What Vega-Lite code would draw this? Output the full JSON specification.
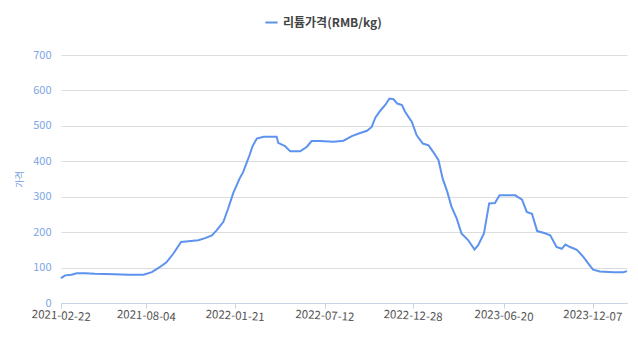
{
  "$schema": "https://vega.github.io/schema/vega-lite/v6.json",
  "width": 566,
  "height": 248,
  "autosize": {"type": "none"},
  "padding": {"left": 61, "top": 55, "right": 11, "bottom": 43},
  "background": "#ffffff",
  "config": {
    "font": "Noto Sans CJK KR",
    "view": {"stroke": null}
  },
  "data": {
    "values": [
      {"date": "2021-02-22", "price": 70},
      {"date": "2021-03-02", "price": 78},
      {"date": "2021-03-14", "price": 80},
      {"date": "2021-03-24", "price": 84},
      {"date": "2021-04-09", "price": 84},
      {"date": "2021-04-28", "price": 82.5},
      {"date": "2021-06-05", "price": 81.5},
      {"date": "2021-07-01", "price": 80},
      {"date": "2021-07-30", "price": 80},
      {"date": "2021-08-15", "price": 87},
      {"date": "2021-08-30", "price": 101},
      {"date": "2021-09-12", "price": 115},
      {"date": "2021-09-25", "price": 139},
      {"date": "2021-10-10", "price": 172},
      {"date": "2021-10-24", "price": 174},
      {"date": "2021-11-12", "price": 177},
      {"date": "2021-11-25", "price": 183},
      {"date": "2021-12-08", "price": 191},
      {"date": "2021-12-17", "price": 205},
      {"date": "2021-12-30", "price": 229},
      {"date": "2022-01-08", "price": 266},
      {"date": "2022-01-18", "price": 311},
      {"date": "2022-01-30", "price": 351},
      {"date": "2022-02-06", "price": 370},
      {"date": "2022-02-18", "price": 417},
      {"date": "2022-02-24", "price": 443},
      {"date": "2022-03-04", "price": 464},
      {"date": "2022-03-17", "price": 469},
      {"date": "2022-04-11", "price": 469},
      {"date": "2022-04-14", "price": 452},
      {"date": "2022-04-27", "price": 443},
      {"date": "2022-05-07", "price": 428},
      {"date": "2022-05-26", "price": 428},
      {"date": "2022-06-08", "price": 441},
      {"date": "2022-06-17", "price": 457},
      {"date": "2022-07-03", "price": 457},
      {"date": "2022-07-29", "price": 455},
      {"date": "2022-08-17", "price": 458},
      {"date": "2022-09-02", "price": 471},
      {"date": "2022-09-18", "price": 480},
      {"date": "2022-10-01", "price": 486},
      {"date": "2022-10-10", "price": 497},
      {"date": "2022-10-17", "price": 523},
      {"date": "2022-10-26", "price": 542},
      {"date": "2022-11-05", "price": 559},
      {"date": "2022-11-13", "price": 577},
      {"date": "2022-11-21", "price": 575},
      {"date": "2022-11-28", "price": 563},
      {"date": "2022-12-07", "price": 559},
      {"date": "2022-12-13", "price": 540},
      {"date": "2022-12-26", "price": 511},
      {"date": "2023-01-04", "price": 474},
      {"date": "2023-01-16", "price": 450},
      {"date": "2023-01-27", "price": 445},
      {"date": "2023-02-05", "price": 426},
      {"date": "2023-02-15", "price": 403},
      {"date": "2023-02-23", "price": 351},
      {"date": "2023-03-04", "price": 313},
      {"date": "2023-03-12", "price": 271},
      {"date": "2023-03-22", "price": 238},
      {"date": "2023-03-31", "price": 196},
      {"date": "2023-04-13", "price": 177},
      {"date": "2023-04-25", "price": 151},
      {"date": "2023-05-02", "price": 163},
      {"date": "2023-05-13", "price": 196},
      {"date": "2023-05-23", "price": 281},
      {"date": "2023-06-03", "price": 282},
      {"date": "2023-06-12", "price": 304},
      {"date": "2023-06-26", "price": 304},
      {"date": "2023-07-12", "price": 304},
      {"date": "2023-07-25", "price": 292},
      {"date": "2023-08-03", "price": 257},
      {"date": "2023-08-13", "price": 252},
      {"date": "2023-08-23", "price": 203},
      {"date": "2023-09-07", "price": 197},
      {"date": "2023-09-17", "price": 191},
      {"date": "2023-09-29", "price": 158},
      {"date": "2023-10-09", "price": 153},
      {"date": "2023-10-16", "price": 165},
      {"date": "2023-10-25", "price": 158},
      {"date": "2023-11-07", "price": 150},
      {"date": "2023-11-19", "price": 131},
      {"date": "2023-11-29", "price": 111},
      {"date": "2023-12-08", "price": 94},
      {"date": "2023-12-21", "price": 89},
      {"date": "2024-01-16", "price": 87},
      {"date": "2024-02-04", "price": 87},
      {"date": "2024-02-11", "price": 90}
    ]
  },
  "transform": [{"calculate": "'리튬가격(RMB/kg)'", "as": "series"}],
  "mark": {"type": "line", "strokeWidth": 2, "interpolate": "linear"},
  "encoding": {
    "x": {
      "field": "date",
      "type": "temporal",
      "scale": {
        "type": "utc",
        "domain": [
          {"year": 2021, "month": 2, "date": 22, "utc": true},
          {"year": 2024, "month": 2, "date": 11, "utc": true}
        ]
      },
      "axis": {
        "title": null,
        "values": [
          {"year": 2021, "month": 2, "date": 22, "utc": true},
          {"year": 2021, "month": 8, "date": 4, "utc": true},
          {"year": 2022, "month": 1, "date": 21, "utc": true},
          {"year": 2022, "month": 7, "date": 12, "utc": true},
          {"year": 2022, "month": 12, "date": 28, "utc": true},
          {"year": 2023, "month": 6, "date": 20, "utc": true},
          {"year": 2023, "month": 12, "date": 7, "utc": true}
        ],
        "format": "%Y-%m-%d",
        "grid": false,
        "domainColor": "#c8d4e6",
        "tickColor": "#c8d4e6",
        "tickSize": 5,
        "labelColor": "#555555",
        "labelFontSize": 11.5,
        "labelAngle": 3,
        "labelAlign": "center",
        "labelBaseline": "top",
        "labelPadding": 2,
        "labelOverlap": false,
        "labelFlush": false
      }
    },
    "y": {
      "field": "price",
      "type": "quantitative",
      "scale": {"domain": [0, 700], "nice": false},
      "axis": {
        "title": "가격",
        "titleColor": "#6f9be0",
        "titleFontSize": 9,
        "titleFontWeight": "normal",
        "titlePadding": 8,
        "values": [0, 100, 200, 300, 400, 500, 600, 700],
        "domain": false,
        "ticks": false,
        "labelColor": "#7ea6e6",
        "labelFontSize": 11,
        "labelPadding": 10,
        "gridColor": "#dddddd",
        "gridWidth": 1
      }
    },
    "color": {
      "field": "series",
      "type": "nominal",
      "scale": {"range": ["#5d93ee"]},
      "legend": {
        "title": null,
        "orient": "none",
        "legendX": 203,
        "legendY": -40,
        "symbolType": "stroke",
        "symbolStrokeWidth": 2,
        "symbolSize": 150,
        "labelFontSize": 12,
        "labelColor": "#444444",
        "labelFontWeight": "bold"
      }
    }
  }
}
